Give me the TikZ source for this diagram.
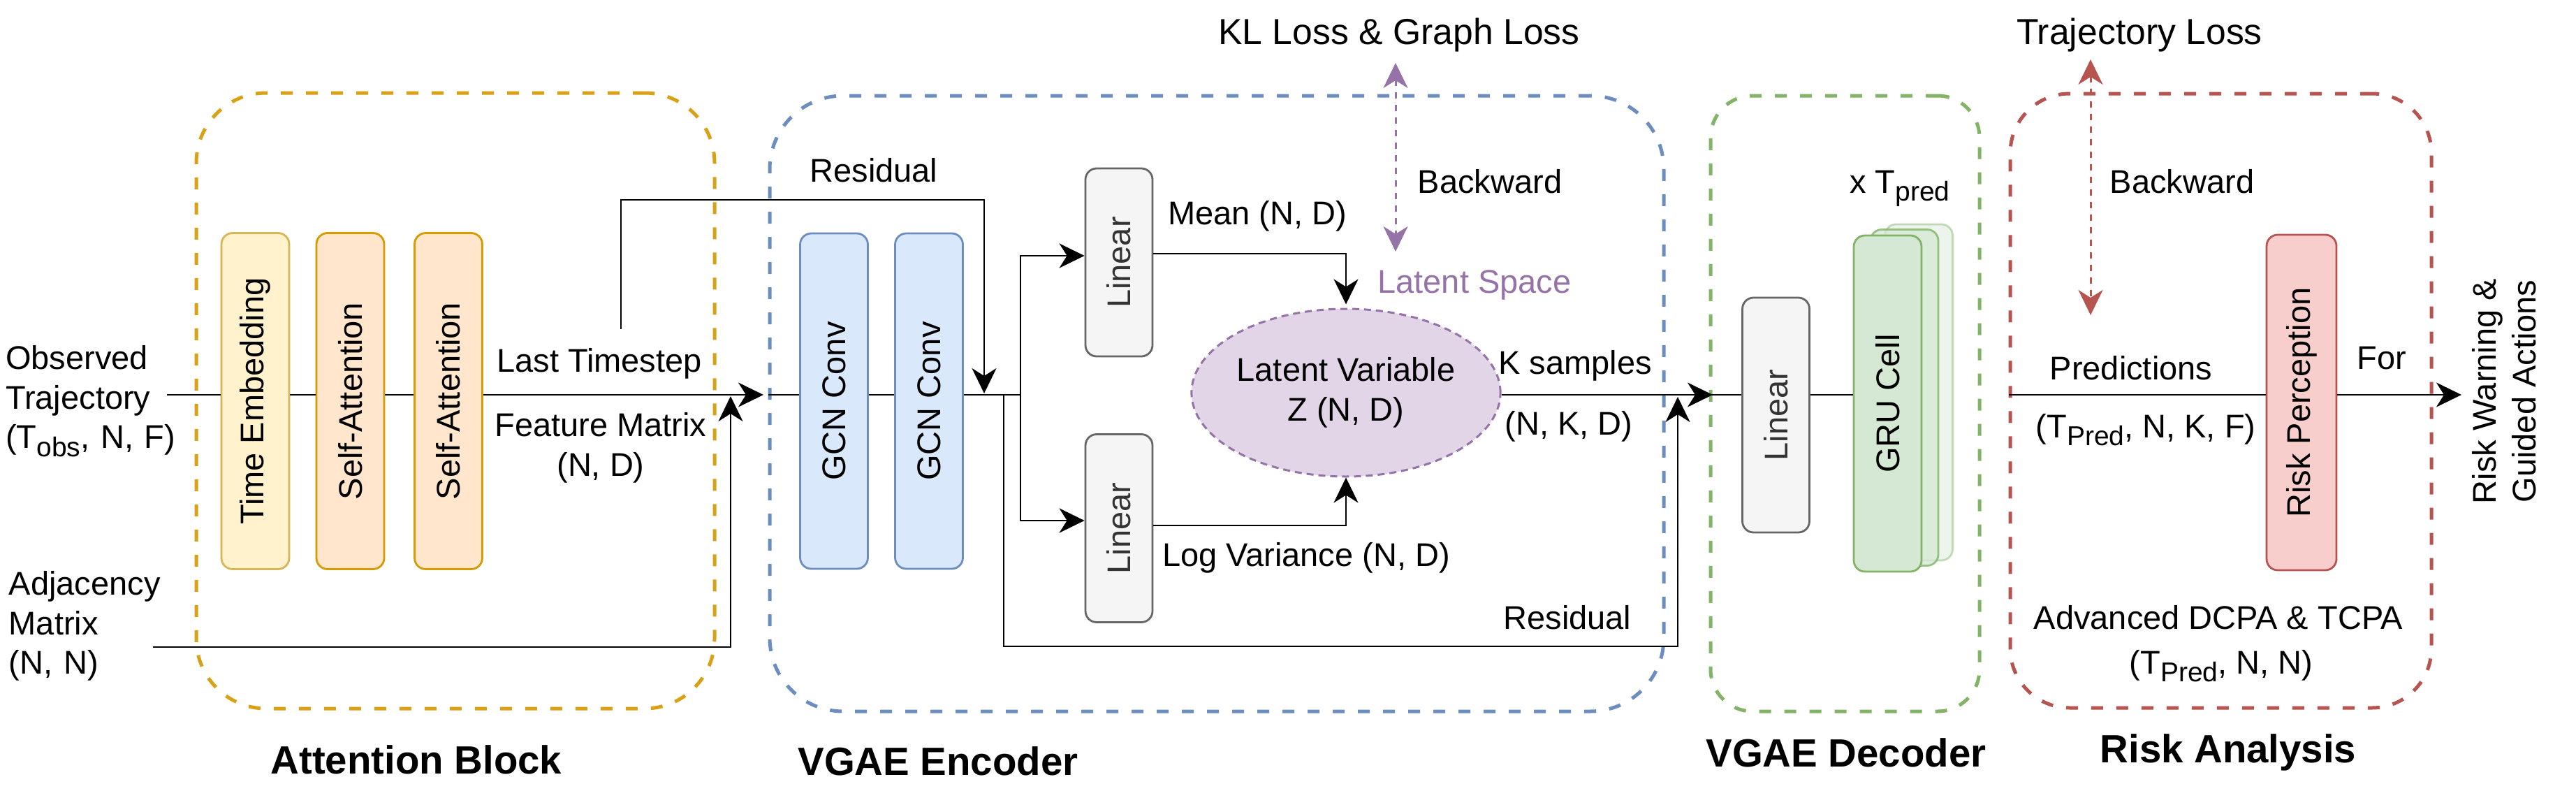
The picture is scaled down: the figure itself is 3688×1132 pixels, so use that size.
\documentclass[tikz,border=0pt]{standalone}
\usepackage{fontspec}
\setmainfont{Liberation Sans}
\usetikzlibrary{arrows.meta, shapes.geometric}
\pgfdeclarelayer{bg}
\pgfsetlayers{bg,main}
\definecolor{yelS}{HTML}{D6B656}\definecolor{yelF}{HTML}{FFF2CC}
\definecolor{orS}{HTML}{D79B00}\definecolor{orF}{HTML}{FFE6CC}
\definecolor{attD}{HTML}{D9A116}
\definecolor{bluS}{HTML}{6C8EBF}\definecolor{bluF}{HTML}{DAE8FC}
\definecolor{gryS}{HTML}{666666}\definecolor{gryF}{HTML}{F5F5F5}
\definecolor{purS}{HTML}{9673A6}\definecolor{purF}{HTML}{E1D5E7}
\definecolor{grnS}{HTML}{82B366}\definecolor{grnF}{HTML}{D5E8D4}
\definecolor{redS}{HTML}{B85450}\definecolor{redF}{HTML}{F8CECC}
\newcommand\subtx[1]{\raisebox{-0.25em}[0pt][0pt]{\fontsize{39}{39}\selectfont #1}}
\tikzset{bigtip/.tip={Stealth[length=36pt,width=35pt,inset=11pt]}}
\begin{document}
\begin{tikzpicture}[x=1pt,y=-1pt,
  every node/.style={font=\fontsize{47}{56.4}\selectfont},
  lbl/.style={inner sep=0pt, align=center},
  ttl/.style={inner sep=0pt, font=\fontsize{56.4}{60}\selectfont\bfseries},
  blk/.style={draw, rounded corners=16pt, line width=2.8pt, inner sep=0pt, minimum width=97pt, minimum height=481pt},
  grp/.style={draw, dash pattern=on 17pt off 19pt, line width=5pt, inner sep=0pt},
  conn/.style={line width=2.8pt},
  arr/.style={conn, -{bigtip}},
  darr/.style={line width=3pt, dash pattern=on 9pt off 9pt, {bigtip}-{bigtip}}
]
\useasboundingbox (0,0) rectangle (3688,1132);
\fill[white] (0,0) rectangle (3688,1132);

% group boxes
\node[grp, draw=attD, rounded corners=100pt, minimum width=742pt, minimum height=881pt] (att) at (652,573.5) {};
\node[grp, draw=bluS, rounded corners=105pt, minimum width=1280pt, minimum height=881pt] (enc) at (1742,577.5) {};
\node[grp, draw=grnS, rounded corners=60pt, minimum width=385pt, minimum height=881pt] (dec) at (2641.5,577.5) {};
\node[grp, draw=redS, rounded corners=85pt, minimum width=603pt, minimum height=879pt] (risk) at (3179.5,573.5) {};

% blocks
\node[blk, fill=yelF, draw=yelS] (te) at (365.5,574) {\rotatebox{90}{Time Embedding}};
\node[blk, fill=orF, draw=orS] (sa1) at (501.5,574) {\rotatebox{90}{Self-Attention}};
\node[blk, fill=orF, draw=orS] (sa2) at (642,574) {\rotatebox{90}{Self-Attention}};
\node[blk, fill=bluF, draw=bluS, minimum height=480pt] (g1) at (1194,574) {\rotatebox{90}{GCN Conv}};
\node[blk, fill=bluF, draw=bluS, minimum height=480pt] (g2) at (1330,574) {\rotatebox{90}{GCN Conv}};
\node[blk, fill=gryF, draw=gryS, text=black!80, minimum width=96pt, minimum height=269pt] (l1) at (1602,375.5) {\rotatebox{90}{Linear}};
\node[blk, fill=gryF, draw=gryS, text=black!80, minimum width=96pt, minimum height=269pt] (l2) at (1602,756) {\rotatebox{90}{Linear}};
\node[ellipse, draw=purS, fill=purF, dash pattern=on 10pt off 7pt, line width=3pt, minimum width=412pt, minimum height=240pt, inner sep=0pt, align=center] (lat) at (1927,562) {Latent Variable\\Z (N, D)};
\node[blk, fill=gryF, draw=gryS, text=black!80, minimum width=96pt, minimum height=336pt] (ld) at (2542.5,594) {\rotatebox{90}{Linear}};
\node[blk, fill=grnF, draw=grnS, fill opacity=0.45, draw opacity=0.45] (gb) at (2747,561.5) {};
\node[blk, fill=grnF, draw=grnS, fill opacity=0.75, draw opacity=0.8] (gm) at (2726.5,569) {};
\node[blk, fill=grnF, draw=grnS] (gf) at (2702.5,577.5) {\rotatebox{90}{GRU Cell}};
\node[blk, fill=redF, draw=redS, minimum width=100pt, minimum height=480pt] (rp) at (3295,576) {\rotatebox{90}{Risk Perception}};

% labels
\node[lbl, anchor=west, align=left, text width=260pt] (obs) at (8,573) {Observed\\Trajectory\\(T\subtx{obs}, N, F)};
\node[lbl, anchor=west, align=left, text width=230pt] (adj) at (12.6,896) {Adjacency\\Matrix\\(N, N)};
\node[lbl] (lts) at (858,520) {Last Timestep};
\node[lbl] (fm) at (860,641) {Feature Matrix\\(N, D)};
\node[lbl] (res1) at (1251,244) {Residual};
\node[lbl] (mean) at (1800,309) {Mean (N, D)};
\node[lbl] (lv) at (1870,798) {Log Variance (N, D)};
\node[lbl, text=purS] (ls) at (2111,408) {Latent Space};
\node[lbl, font=\fontsize{51.7}{62}\selectfont] (kl) at (2003,50.5) {KL Loss \& Graph Loss};
\node[lbl] (bw1) at (2133,260) {Backward};
\node[lbl] (ks) at (2255,523) {K samples};
\node[lbl] (nkd) at (2246,610) {(N, K, D)};
\node[lbl] (res2) at (2244,884) {Residual};
\node[ttl] (tatt) at (596,1087) {Attention Block};
\node[ttl] (tenc) at (1343,1089) {VGAE Encoder};
\node[lbl] (xt) at (2720,260) {x T\subtx{pred}};
\node[lbl, font=\fontsize{51.7}{62}\selectfont] (tl) at (3063,50.5) {Trajectory Loss};
\node[lbl] (bw2) at (3124,260) {Backward};
\node[lbl] (pred) at (3051,527) {Predictions};
\node[lbl] (tpnkf) at (3072,614) {(T\subtx{Pred}, N, K, F)};
\node[lbl] (for) at (3410,513) {For};
\node[lbl, rotate=90] (rw) at (3585,560) {Risk Warning \&\\Guided Actions};
\node[lbl] (dcpa) at (3176,884) {Advanced DCPA \& TCPA};
\node[lbl] (tpnn) at (3180,952) {(T\subtx{Pred}, N, N)};
\node[ttl] (tdec) at (2643,1077) {VGAE Decoder};
\node[ttl] (trisk) at (3190,1077) {Risk Analysis};

% coordinates
\coordinate (my) at (0,565);
\coordinate (obsout) at (239,565);
\coordinate (adjout) at (219,926);
\coordinate (encin) at (1093,565);
\coordinate (adjtip) at (1046,567);
\coordinate (br) at (1461,565);
\coordinate (ltsup) at (889,471);
\coordinate (rtop) at (0,286);
\coordinate (rtip1) at (1409,563);
\coordinate (b1y) at (0,366);
\coordinate (b2y) at (0,745);
\coordinate (mny) at (0,363);
\coordinate (lvy) at (0,752);
\coordinate (decin) at (2452,565);
\coordinate (rb) at (1437,565);
\coordinate (rby) at (0,925);
\coordinate (rtip2) at (2402,568);
\coordinate (outtip) at (3524,565);
\coordinate (pa) at (1998,90);
\coordinate (pb) at (1998,360);
\coordinate (ra) at (2993,85);
\coordinate (rbb) at (2993,451);

% connectors
\draw[conn] (obsout) -- (te.west |- my);
\draw[conn] (te.east |- my) -- (sa1.west |- my);
\draw[conn] (sa1.east |- my) -- (sa2.west |- my);
\draw[arr] (sa2.east |- my) -- (encin);
\draw[arr] (adjout) -| (adjtip);
\draw[conn] (enc.west |- my) -- (g1.west |- my);
\draw[conn] (g1.east |- my) -- (g2.west |- my);
\draw[conn] (g2.east |- my) -- (br);
\draw[arr] (ltsup) -- (ltsup |- rtop) -| (rtip1);
\draw[arr] (br) |- (l1.west |- b1y);
\draw[arr] (br) |- (l2.west |- b2y);
\draw[arr, shorten >=5pt] (l1.east |- mny) -| (lat.north);
\draw[arr] (l2.east |- lvy) -| (lat.south);
\draw[arr] (lat.east |- my) -- (decin);
\draw[arr] (rb) -- (rb |- rby) -| (rtip2);
\draw[conn] (dec.west |- my) -- (ld.west |- my);
\draw[conn] (ld.east |- my) -- (gf.west |- my);
\begin{pgfonlayer}{bg}
\draw[arr] (gf.east |- my) -- (risk.west |- my);
\end{pgfonlayer}
\draw[conn] (risk.west |- my) -- (rp.west |- my);
\draw[arr] (rp.east |- my) -- (outtip);
\draw[darr, draw=purS, fill=purS] (pa) -- (pb);
\draw[darr, draw=redS, fill=redS] (ra) -- (rbb);
\end{tikzpicture}
\end{document}
